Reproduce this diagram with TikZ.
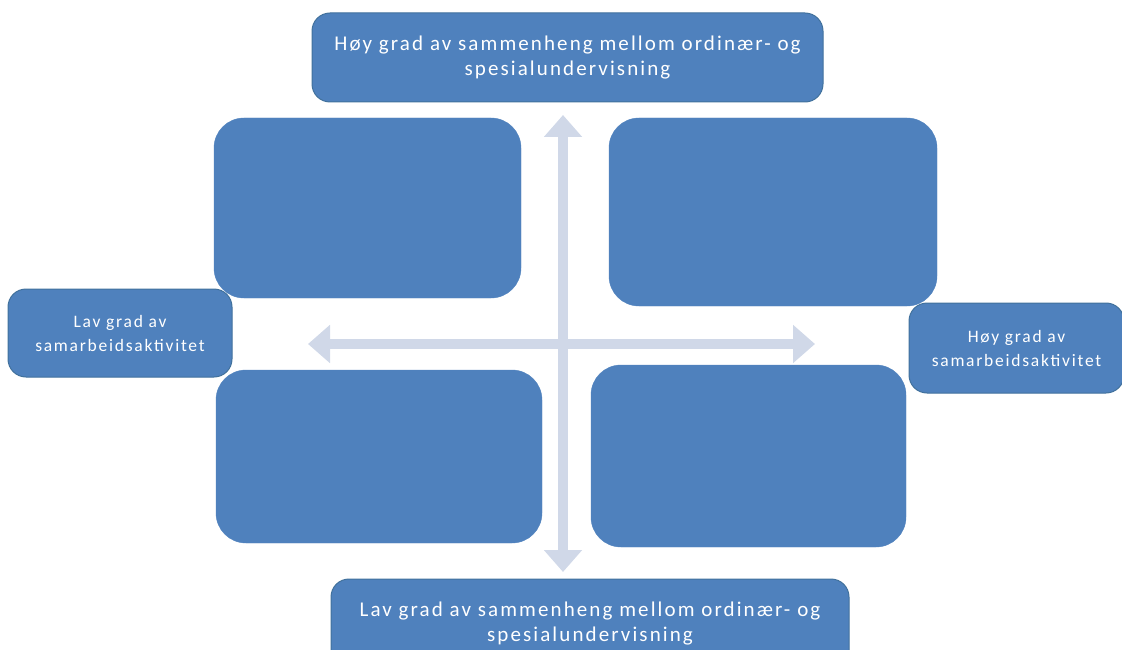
\documentclass[tikz,border=0pt]{standalone}
\usepackage{fontspec}
\setmainfont{Carlito}[LetterSpace=10]
\usetikzlibrary{positioning, arrows.meta}
\definecolor{boxblue}{HTML}{4F81BD}
\definecolor{boxedge}{HTML}{41719C}
\definecolor{axisgray}{HTML}{D0D8E8}

\begin{document}
\begin{tikzpicture}[x=1pt, y=-1pt,
	quad/.style={draw=boxblue, fill=boxblue, rounded corners=30pt, inner sep=0pt},
	axislabel/.style={draw=boxedge, line width=1pt, fill=boxblue, rounded corners=18pt, text=white, align=center, inner sep=0pt, font=\fontsize{21}{25}\selectfont},
	sidelabel/.style={axislabel, font=\fontsize{17.5}{24}\selectfont},
	axisarrow/.style={draw=axisgray, line width=10pt, {Triangle[width=37pt,length=22pt]}-{Triangle[width=37pt,length=22pt]}}]
	% Fix the page
	\useasboundingbox (0, 0) rectangle (1122, 650);
	\clip (0, 0) rectangle (1122, 650);
	
	% Draw axes
	\coordinate (north) at (563, 115);
	\coordinate (south) at (563, 572);
	\coordinate (west) at (308, 344);
	\coordinate (east) at (815, 344);
	\draw[axisarrow] (west) -- (east);
	\draw[axisarrow] (north) -- (south);
	
	% Quadrants
	\node[quad, minimum width=307pt, minimum height=180pt] (q1) at (367.5, 208) {};
	\node[quad, minimum width=328pt, minimum height=188pt] (q2) at (773, 212) {};
	\node[quad, minimum width=326pt, minimum height=173pt] (q3) at (379, 456.5) {};
	\node[quad, minimum width=315pt, minimum height=182pt] (q4) at (748.5, 456) {};
	
	% Axis labels
	\node[axislabel, minimum width=511pt, minimum height=89pt] (top) at (567.5, 57.5)
		{Høy grad av sammenheng mellom ordinær- og\\ spesialundervisning};
	\node[axislabel, minimum width=518pt, minimum height=89pt] (bottom) at (590, 623.5)
		{Lav grad av sammenheng mellom ordinær- og\\ spesialundervisning};
	\node[sidelabel, minimum width=224pt, minimum height=88pt] (left) at (120, 333)
		{Lav grad av\\ samarbeidsaktivitet};
	\node[sidelabel, minimum width=215pt, minimum height=90pt] (right) at (1016.5, 348)
		{Høy grad av\\ samarbeidsaktivitet};
\end{tikzpicture}
\end{document}
